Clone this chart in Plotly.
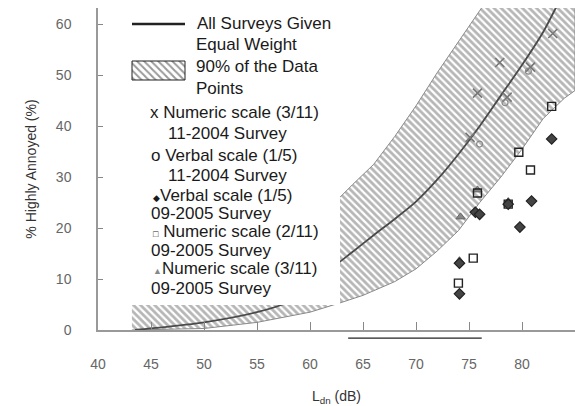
import plotly.graph_objects as go

# ---- data ----
curve_ldn = [43.5, 45, 50, 55, 58, 60, 62, 64, 66, 68, 70, 72, 74, 76, 78, 80, 82, 84, 85]
curve_ha = [0.0, 0.3, 1.5, 3.5, 5.5, 8.0, 12.0, 15.3, 18.6, 21.8, 25.2, 29.5, 34.5, 40.0, 46.0, 52.0, 58.5, 66.5, 70.0]

band_up_ldn = [43.2, 45, 50, 55, 60, 62.8, 64, 66, 68, 70, 72, 74, 76, 78, 80, 85]
band_up_ha = [7.0, 8.0, 11.0, 15.0, 21.0, 26.0, 28.5, 32.5, 38.0, 44.0, 50.5, 56.5, 62.5, 68.5, 75.0, 90.0]
band_lo_ldn = [43.2, 50, 55, 60, 62.8, 65, 68, 70, 72, 74, 76, 78, 80, 82, 83, 84, 85]
band_lo_ha = [0.0, 0.3, 1.5, 3.5, 5.3, 6.8, 9.5, 12.0, 15.5, 19.5, 25.0, 30.0, 35.5, 41.5, 43.5, 45.5, 47.0]

num311_2004_ldn = [82.9, 77.9, 80.8, 75.8, 78.6, 75.1]
num311_2004_ha = [58.2, 52.5, 51.6, 46.5, 45.7, 37.8]

verb15_2004_ldn = [78.4, 76.0, 80.6]
verb15_2004_ha = [44.6, 36.5, 50.8]

verb15_2005_ldn = [82.8, 79.8, 80.9, 78.7, 75.6, 76.0, 74.1, 74.1]
verb15_2005_ha = [37.5, 20.2, 25.3, 24.7, 23.1, 22.7, 13.1, 7.1]

num211_2005_ldn = [82.8, 79.7, 80.8, 75.8, 75.4, 74.0, 78.7]
num211_2005_ha = [43.9, 34.9, 31.4, 26.9, 14.1, 9.2, 24.7]

num311_2005_ldn = [74.2, 74.1, 78.7, 75.8]
num311_2005_ha = [22.2, 13.6, 25.2, 27.5]

x_ticks = [40, 45, 50, 55, 60, 65, 70, 75, 80]
y_ticks = [0, 10, 20, 30, 40, 50, 60]
under_line_ldn = [63.6, 76.2]

legend_lines = [
    ("All Surveys Given", 195, 23),
    ("Equal Weight", 194, 44),
    ("90% of the Data", 194, 66),
    ("Points", 194, 88),
    ("x Numeric scale (3/11)", 148, 112),
    ("11-2004 Survey", 166, 133),
    ("o Verbal scale (1/5)", 149, 155),
    ("11-2004 Survey", 166, 175),
    ("<span style='font-size:9px'>◆</span>Verbal scale (1/5)", 151, 195),
    ("09-2005 Survey", 149, 213),
    ("<span style='font-size:9px'>□</span> Numeric scale (2/11)", 151, 231),
    ("09-2005 Survey", 149, 250),
    ("<span style='font-size:9px;color:#888'>▲</span>Numeric scale (3/11)", 151, 268),
    ("09-2005 Survey", 149, 288),
]

FONT = "Liberation Sans, Arial, sans-serif"

fig = go.Figure()

# hatched band
fig.add_trace(go.Scatter(
    x=band_up_ldn + band_lo_ldn[::-1], y=band_up_ha + band_lo_ha[::-1],
    mode="lines", fill="toself", fillcolor="white",
    fillpattern=dict(shape="\\", fgcolor="#6e6e6e", bgcolor="white", size=5, solidity=0.55),
    line=dict(color="#8a8a8a", width=1), hoverinfo="skip", showlegend=False))

# main curve
fig.add_trace(go.Scatter(x=curve_ldn, y=curve_ha, mode="lines",
                         line=dict(color="#4a4a4a", width=1.8, shape="spline", smoothing=0.8),
                         showlegend=False))

fig.add_trace(go.Scatter(x=num311_2004_ldn, y=num311_2004_ha, mode="markers",
                         marker=dict(symbol="x-thin-open", size=9, color="#777",
                                     line=dict(color="#777", width=1.6)),
                         showlegend=False))
fig.add_trace(go.Scatter(x=verb15_2004_ldn, y=verb15_2004_ha, mode="markers",
                         marker=dict(symbol="circle-open", size=6, color="#888",
                                     line=dict(color="#888", width=1.2)),
                         showlegend=False))
fig.add_trace(go.Scatter(x=num311_2005_ldn, y=num311_2005_ha, mode="markers",
                         marker=dict(symbol="triangle-up", size=8, color="#888", line=dict(color="#666", width=1)),
                         showlegend=False))
fig.add_trace(go.Scatter(x=num211_2005_ldn, y=num211_2005_ha, mode="markers",
                         marker=dict(symbol="square-open", size=8, color="#222", line=dict(color="#222", width=1.4)),
                         showlegend=False))
fig.add_trace(go.Scatter(x=verb15_2005_ldn, y=verb15_2005_ha, mode="markers",
                         marker=dict(symbol="diamond", size=8, color="#444", line=dict(color="#222", width=1.2)),
                         showlegend=False))

# legend panel on an overlay pixel-space axis
fig.add_trace(go.Scatter(x=[99.5, 340, 340, 99.5, 99.5], y=[8, 8, 305, 305, 8], mode="lines",
                         fill="toself", fillcolor="white", line=dict(width=0, color="white"),
                         xaxis="x2", yaxis="y2", hoverinfo="skip", showlegend=False))
fig.add_trace(go.Scatter(x=[132, 185], y=[24, 24], mode="lines",
                         line=dict(color="#222", width=2.6),
                         xaxis="x2", yaxis="y2", hoverinfo="skip", showlegend=False))
fig.add_trace(go.Scatter(x=[132, 185, 185, 132, 132], y=[61, 61, 80, 80, 61], mode="lines",
                         fill="toself", fillcolor="white",
                         fillpattern=dict(shape="\\", fgcolor="#333", bgcolor="white", size=5, solidity=0.4),
                         line=dict(color="#222", width=1),
                         xaxis="x2", yaxis="y2", hoverinfo="skip", showlegend=False))

for txt, px, py in legend_lines:
    fig.add_annotation(x=px, y=py, xref="x2", yref="y2", text=txt, showarrow=False,
                       xanchor="left", yanchor="middle",
                       font=dict(family=FONT, size=17, color="#1a1a1a"))

fig.add_shape(type="line", xref="x", yref="paper", x0=under_line_ldn[0], x1=under_line_ldn[1],
              y0=-0.025, y1=-0.025, line=dict(color="#222", width=1.2))

fig.update_layout(
    width=575, height=406,
    margin=dict(l=98, r=0, t=8, b=76),
    paper_bgcolor="white", plot_bgcolor="white",
    font=dict(family=FONT),
    xaxis=dict(range=[40, 85], tickvals=x_ticks, ticks="inside", ticklen=8, tickcolor="#888",
               showline=True, linecolor="#999", linewidth=1.5, showgrid=False, zeroline=False,
               ticklabelstandoff=20, tickfont=dict(size=14, color="#666"),
               title=dict(text="L<sub>dn</sub> (dB)", font=dict(size=14, color="#333"), standoff=22),
               automargin=False),
    yaxis=dict(range=[0, 63.2], tickvals=y_ticks, ticks="inside", ticklen=5, tickcolor="#888",
               showline=True, linecolor="#999", linewidth=1.5, showgrid=False, zeroline=False,
               ticklabelstandoff=22, tickfont=dict(size=14, color="#666"),
               title=dict(text="% Highly Annoyed (%)", font=dict(size=14, color="#333"), standoff=16),
               automargin=False),
    xaxis2=dict(range=[98, 575], overlaying="x", visible=False, fixedrange=True),
    yaxis2=dict(range=[330, 8], overlaying="y", visible=False, fixedrange=True),
)

fig.write_html("out.html")
